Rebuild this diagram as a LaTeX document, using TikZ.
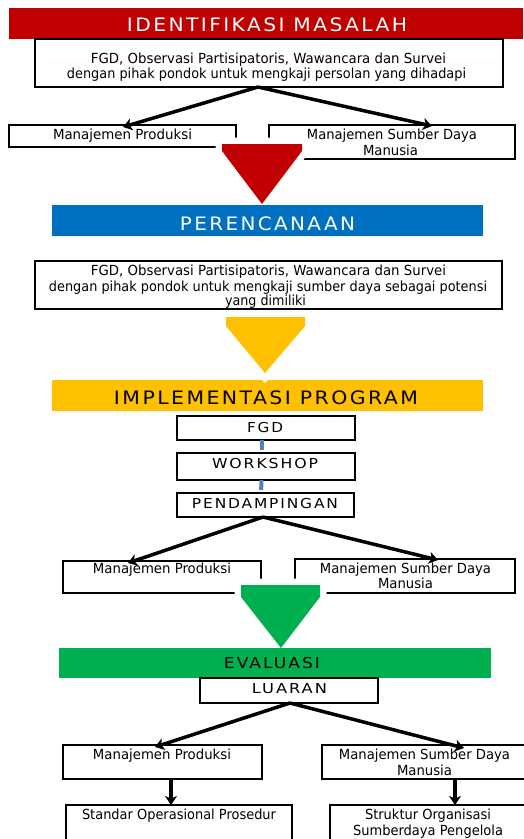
\documentclass[tikz,border=0pt]{standalone}
\usepackage{fontspec}
\usepackage{graphicx}
\setmainfont{DejaVu Sans}
\newfontfamily\titlefont[LetterSpace=12]{DejaVu Sans}
\usetikzlibrary{arrows.meta}
\definecolor{cRed}{HTML}{C00000}
\definecolor{cBlue}{HTML}{0070C0}
\definecolor{cYellow}{HTML}{FFC000}
\definecolor{cGreen}{HTML}{00B050}
\definecolor{cLink}{HTML}{4F81BD}
\newcommand{\fw}[2]{\resizebox{#1pt}{\height}{#2}}
\tikzset{
  box/.style={draw=black, line width=1.5pt, fill=white, inner sep=0pt, outer sep=0pt},
  band/.style={inner sep=0pt, outer sep=0pt, minimum height=31pt},
  txt/.style={inner sep=0pt, anchor=base, font=\fontsize{13.9}{16}\selectfont},
  captxt/.style={inner sep=0pt, anchor=base, font=\titlefont\fontsize{13.7}{16}\selectfont},
  ttl/.style={inner sep=0pt, anchor=base, font=\titlefont\fontsize{18.5}{20}\selectfont},
  bigarrow/.style={line width=3.5pt, -{Stealth[length=9pt,width=12pt,inset=2.5pt]}},
  link/.style={draw=cLink, line width=4pt},
  chev/.style={preaction={draw=white, line width=13pt, line join=miter}}
}
\begin{document}
\begin{tikzpicture}[x=1pt,y=-1pt]
\useasboundingbox (0,0) rectangle (523,839);
% ---------- IDENTIFIKASI MASALAH ----------
\node[band, fill=cRed, minimum width=514pt] (b1) at (266,23) {};
\node[ttl, text=white] (b1t) at (267,31) {\fw{280}{IDENTIFIKASI MASALAH}};
\node[box, minimum width=468pt, minimum height=48pt] (k1) at (269,63) {};
\node[txt] (k1a) at (268.5,63) {\fw{355}{FGD, Observasi Partisipatoris, Wawancara dan Survei}};
\node[txt] (k1b) at (266.5,78) {\fw{399}{dengan pihak pondok untuk mengkaji persolan yang dihadapi}};
\node[box, minimum width=227pt, minimum height=22pt] (mp1) at (122.5,136) {};
\node[txt] (mp1t) at (122.5,139) {\fw{139}{Manajemen Produksi}};
\node[box, minimum width=246pt, minimum height=34pt] (ms1) at (392,142) {};
\node[txt] (ms1a) at (392,139) {\fw{170}{Manajemen Sumber Daya}};
\node[txt] (ms1b) at (390.5,155) {\fw{55}{Manusia}};
\draw[bigarrow] ([xshift=-11pt]k1.south) -- ([xshift=0.5pt,yshift=-2pt]mp1.north);
\draw[bigarrow] ([xshift=-11pt]k1.south) -- ([xshift=40pt,yshift=-1pt]ms1.north);
\fill[cRed, chev] (222,144) -- (302,144) -- (302,151) -- (262,204) -- (222,151) -- cycle;
% ---------- PERENCANAAN ----------
\node[band, fill=cBlue, minimum width=431pt] (b2) at (267.5,220.5) {};
\node[ttl, text=white] (b2t) at (267.5,230) {\fw{175}{PERENCANAAN}};
\node[box, minimum width=467pt, minimum height=48pt] (k2) at (268.5,285) {};
\node[txt] (k2a) at (268.5,275) {\fw{355}{FGD, Observasi Partisipatoris, Wawancara dan Survei}};
\node[txt] (k2b) at (268,291) {\fw{438}{dengan pihak pondok untuk mengkaji sumber daya sebagai potensi}};
\node[txt] (k2c) at (265.5,305) {\fw{81}{yang dimiliki}};
% ---------- IMPLEMENTASI PROGRAM ----------
\node[band, fill=cYellow, minimum width=431pt] (b3) at (267.5,395.5) {};
\fill[cYellow, chev] (226,317) -- (305,317) -- (305,326) -- (265,373) -- (226,326) -- cycle;
\node[ttl, text=black] (b3t) at (266,404) {\fw{304}{IMPLEMENTASI PROGRAM}};
\node[box, minimum width=178pt, minimum height=24pt] (fgd) at (266,428) {};
\node[captxt] (fgdt) at (265,432) {\fw{36}{FGD}};
\node[box, minimum width=178pt, minimum height=27pt] (ws) at (266,466.5) {};
\node[captxt] (wst) at (265,468) {\fw{106}{WORKSHOP}};
\node[box, minimum width=177pt, minimum height=24pt] (pd) at (265.5,505) {};
\node[captxt] (pdt) at (265,508) {\fw{146}{PENDAMPINGAN}};
\draw[link, shorten >=3pt] ([xshift=-4pt]fgd.south) -- ([xshift=-4pt]ws.north);
\draw[link, shorten >=3pt] ([xshift=-4.5pt]ws.south) -- ([xshift=-4.5pt]pd.north);
\node[box, minimum width=198pt, minimum height=32pt] (mp2) at (162,577) {};
\node[txt] (mp2t) at (162,573) {\fw{138}{Manajemen Produksi}};
\node[box, minimum width=220pt, minimum height=34pt] (ms2) at (405,576) {};
\node[txt] (ms2a) at (405.5,573) {\fw{171}{Manajemen Sumber Daya}};
\node[txt] (ms2b) at (405.5,588) {\fw{55}{Manusia}};
\draw[bigarrow] ([xshift=-2.5pt]pd.south) -- ([xshift=-34pt,yshift=-2pt]mp2.north);
\draw[bigarrow] ([xshift=-2.5pt]pd.south) -- ([xshift=33pt,yshift=-1pt]ms2.north);
\fill[cGreen, chev] (241,585) -- (320,585) -- (320,597) -- (281,648) -- (241,597) -- cycle;
% ---------- EVALUASI ----------
\node[band, fill=cGreen, minimum width=432pt, minimum height=30pt] (b4) at (275,663) {};
\node[ttl, text=black, font=\titlefont\fontsize{15}{18}\selectfont] (b4t) at (272,668) {\fw{96}{EVALUASI}};
\node[box, minimum width=178pt, minimum height=25pt] (lr) at (289,690.5) {};
\node[captxt] (lrt) at (289.5,693) {\fw{75}{LUARAN}};
\node[box, minimum width=199pt, minimum height=34pt] (mp3) at (162.5,762) {};
\node[txt] (mp3t) at (162,759) {\fw{138}{Manajemen Produksi}};
\node[box, minimum width=208pt, minimum height=34pt] (ms3) at (426,762) {};
\node[txt] (ms3a) at (424.5,759) {\fw{171}{Manajemen Sumber Daya}};
\node[txt] (ms3b) at (424.5,775) {\fw{55}{Manusia}};
\draw[bigarrow] ([xshift=1pt]lr.south) -- ([xshift=-7.5pt,yshift=-2pt]mp3.north);
\draw[bigarrow] ([xshift=1pt]lr.south) -- ([xshift=38pt,yshift=-3pt]ms3.north);
\node[box, minimum width=226pt, minimum height=45pt] (sop) at (179,827.5) {};
\node[txt] (sopt) at (179,819) {\fw{194}{Standar Operasional Prosedur}};
\node[box, minimum width=200pt, minimum height=45pt] (sos) at (430,827.5) {};
\node[txt] (sosa) at (428,819) {\fw{126}{Struktur Organisasi}};
\node[txt] (sosb) at (428,835) {\fw{150}{Sumberdaya Pengelola}};
\draw[bigarrow] ([xshift=8.5pt]mp3.south) -- ([xshift=-8pt]sop.north);
\draw[bigarrow] ([xshift=29pt]ms3.south) -- ([xshift=25pt]sos.north);
\end{tikzpicture}
\end{document}
